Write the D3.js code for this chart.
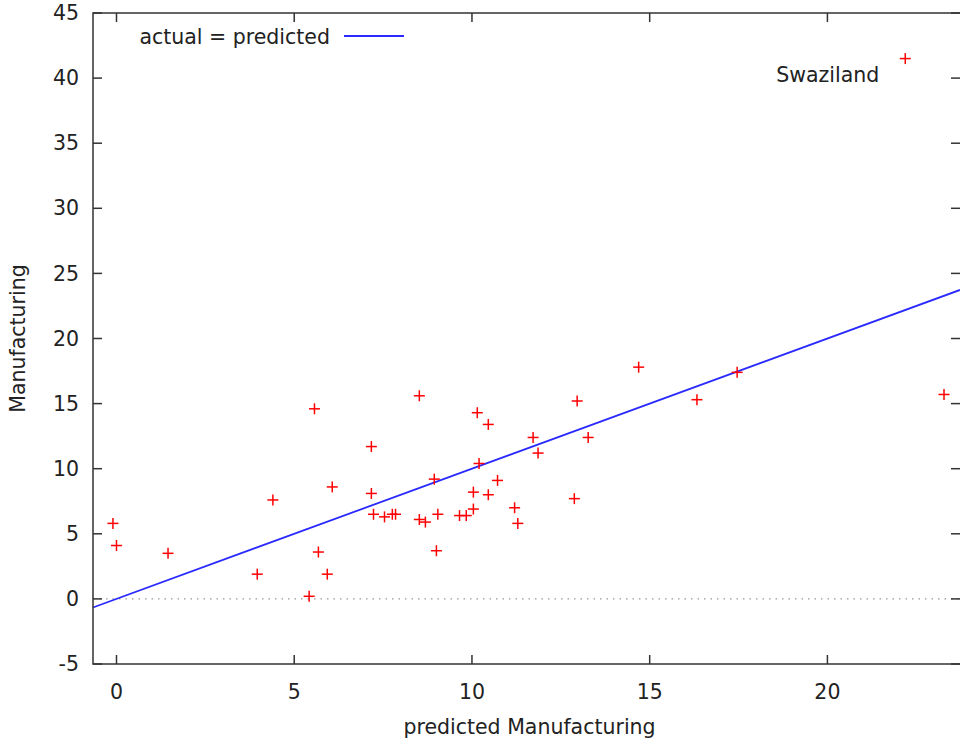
<!DOCTYPE html>
<head>
    <title>Actual vs predicted Manufacturing</title>
    <meta charset="utf-8">
    <style>
        body { margin: 0; background: #fff; }
        text { font-family: "DejaVu Sans", sans-serif; font-size: 20.5px; fill: #222; }
        .border { fill: none; stroke: #333; stroke-width: 1.5; }
        .tick { stroke: #333; stroke-width: 1.5; }
        .zero { stroke: #999; stroke-width: 1.2; stroke-dasharray: 1.5,5; }
        .fit { stroke: #2a2aff; stroke-width: 1.8; fill: none; }
        .pt { stroke: #ff0000; stroke-width: 1.5; }
    </style>
    <script src="https://cdn.jsdelivr.net/npm/d3@7"></script>
</head>
<body>
<svg width="960" height="741"></svg>
<script>

// predicted vs actual share of manufacturing
var predicted = [-0.1, 0.0, 1.45, 3.96, 4.4, 5.42, 5.57, 5.68, 5.93, 6.07,
                 7.17, 7.17, 7.23, 7.54, 7.76, 7.85, 8.52, 8.52, 8.69, 8.94,
                 9.0, 9.04, 9.65, 9.84, 10.04, 10.04, 10.15, 10.2, 10.46, 10.46,
                 10.72, 11.2, 11.29, 11.72, 11.86, 12.88, 12.96, 13.27, 14.69, 16.33,
                 17.46, 22.19, 23.28];
var actual =    [5.8, 4.1, 3.5, 1.9, 7.6, 0.2, 14.6, 3.6, 1.9, 8.6,
                 11.7, 8.1, 6.5, 6.3, 6.5, 6.5, 15.6, 6.1, 5.9, 9.2,
                 3.7, 6.5, 6.4, 6.4, 8.2, 6.9, 14.3, 10.4, 13.4, 8.0,
                 9.1, 7.0, 5.8, 12.4, 11.2, 7.7, 15.2, 12.4, 17.8, 15.3,
                 17.4, 41.5, 15.7];
var labelName = "Swaziland";
var labelIndex = 41;

var xTicks = [0, 5, 10, 15, 20];
var yTicks = [-5, 0, 5, 10, 15, 20, 25, 30, 35, 40, 45];

var svg = d3.select("svg");
var pLeft = 93, pRight = 960, pTop = 13, pBottom = 664;

var x = d3.scaleLinear().domain([-0.661, 23.73]).range([pLeft, pRight]);
var y = d3.scaleLinear().domain([-5, 45]).range([pBottom, pTop]);

// zero axis
svg.append("line")
    .attr("class", "zero")
    .attr("x1", pLeft).attr("x2", pRight)
    .attr("y1", y(0)).attr("y2", y(0));

// actual = predicted line
var xd = x.domain();
svg.append("line")
    .attr("class", "fit")
    .attr("x1", x(xd[0])).attr("y1", y(xd[0]))
    .attr("x2", x(xd[1])).attr("y2", y(xd[1]));

// ticks, mirrored on all sides
var tl = 9;
xTicks.forEach(function(t) {
    svg.append("line").attr("class", "tick")
        .attr("x1", x(t)).attr("x2", x(t)).attr("y1", pBottom).attr("y2", pBottom - tl);
    svg.append("line").attr("class", "tick")
        .attr("x1", x(t)).attr("x2", x(t)).attr("y1", pTop).attr("y2", pTop + tl);
    svg.append("text")
        .attr("x", x(t)).attr("y", pBottom + 28)
        .attr("dy", "0.35em")
        .attr("text-anchor", "middle")
        .text(t);
});
yTicks.forEach(function(t) {
    svg.append("line").attr("class", "tick")
        .attr("x1", pLeft).attr("x2", pLeft + tl).attr("y1", y(t)).attr("y2", y(t));
    svg.append("line").attr("class", "tick")
        .attr("x1", pRight).attr("x2", pRight - tl).attr("y1", y(t)).attr("y2", y(t));
    svg.append("text")
        .attr("x", pLeft - 14).attr("y", y(t))
        .attr("dy", "0.35em")
        .attr("text-anchor", "end")
        .text(t);
});

// border
svg.append("path")
    .attr("class", "border")
    .attr("d", "M" + pRight + "," + pTop + "H" + pLeft + "V" + pBottom + "H" + pRight);

// points as + marks
var s = 5.5;
var pts = svg.append("g").selectAll("g")
    .data(predicted.map(function(p, i) { return [p, actual[i]]; }))
    .enter().append("g")
    .attr("transform", function(d) { return "translate(" + x(d[0]) + "," + y(d[1]) + ")"; });
pts.append("line").attr("class", "pt").attr("x1", -s).attr("x2", s);
pts.append("line").attr("class", "pt").attr("y1", -s).attr("y2", s);

// outlier label
svg.append("text")
    .attr("x", x(predicted[labelIndex]) - 26)
    .attr("y", y(actual[labelIndex]) + 16)
    .attr("dy", "0.35em")
    .attr("text-anchor", "end")
    .text(labelName);

// key
svg.append("text")
    .attr("x", 330).attr("y", 37)
    .attr("dy", "0.35em")
    .attr("text-anchor", "end")
    .text("actual = predicted");
svg.append("line")
    .attr("class", "fit")
    .attr("x1", 344).attr("x2", 404).attr("y1", 36).attr("y2", 36);

// axis titles
svg.append("text")
    .attr("x", (pLeft + pRight) / 2 + 3).attr("y", 727)
    .attr("dy", "0.35em")
    .attr("text-anchor", "middle")
    .text("predicted Manufacturing");
svg.append("text")
    .attr("transform", "translate(18," + ((pTop + pBottom) / 2) + ") rotate(-90)")
    .attr("dy", "0.35em")
    .attr("text-anchor", "middle")
    .text("Manufacturing");

</script>
</body>
